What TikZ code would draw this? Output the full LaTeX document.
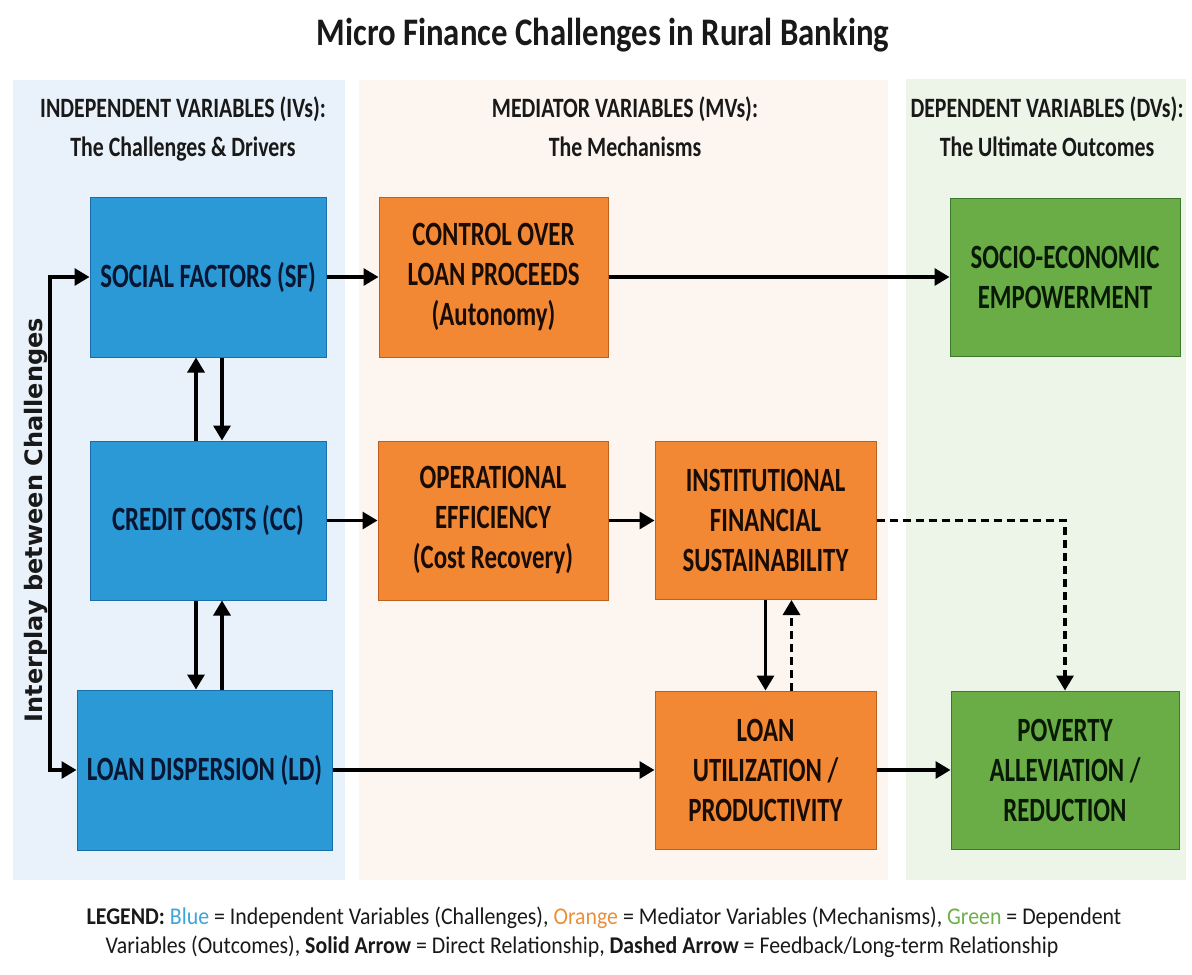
\documentclass[tikz,border=0pt]{standalone}
\usepackage{fontspec}
\setmainfont{Carlito}[FakeStretch=0.78]
\newfontfamily\boxfont{Carlito}[FakeStretch=0.73]
\newfontfamily\titlefont{Carlito}[FakeStretch=0.84]
\newfontfamily\legfont{Carlito}[FakeStretch=0.91]
\newfontfamily\sidefont{DejaVu Sans}
\usetikzlibrary{arrows.meta}

% panel backgrounds
\definecolor{ivbg}{RGB}{233,242,250}
\definecolor{mvbg}{RGB}{253,245,239}
\definecolor{dvbg}{RGB}{236,245,231}
% box fills, outlines and text
\definecolor{ivfill}{RGB}{43,153,214}
\definecolor{ivline}{RGB}{25,110,170}
\definecolor{ivtext}{RGB}{8,22,50}
\definecolor{mvfill}{RGB}{242,136,52}
\definecolor{mvline}{RGB}{190,95,30}
\definecolor{mvtext}{RGB}{25,12,4}
\definecolor{dvfill}{RGB}{106,172,70}
\definecolor{dvline}{RGB}{60,120,45}
\definecolor{dvtext}{RGB}{8,26,6}
% legend colour words
\definecolor{legblue}{RGB}{60,165,220}
\definecolor{legorange}{RGB}{232,145,58}
\definecolor{leggreen}{RGB}{110,176,74}

\tikzset{
  box/.style={draw, line width=1pt, inner sep=0pt, align=center,
    font=\boxfont\fontsize{34}{40}\selectfont\bfseries},
  ivbox/.style={box, fill=ivfill, draw=ivline, text=ivtext},
  mvbox/.style={box, fill=mvfill, draw=mvline, text=mvtext},
  dvbox/.style={box, fill=dvfill, draw=dvline, text=dvtext},
  head/.style={anchor=base, font=\fontsize{28}{34}\selectfont\bfseries, text=black!90},
  legend/.style={anchor=base, font=\legfont\fontsize{24}{28}\selectfont, text=black!90},
  tip/.tip={Triangle[length=15pt,width=17pt]},
  arr/.style={line width=3.2pt, -tip},
  dasharr/.style={arr, dash pattern=on 8pt off 5pt},
  dblarr/.style={line width=3.2pt, tip-tip},
}

\begin{document}
\begin{tikzpicture}[x=1pt, y=-1pt]
\useasboundingbox (0,0) rectangle (1192,975);
\fill[white] (0,0) rectangle (1192,975);

% column panels
\fill[ivbg] (13,80) rectangle (345,880);
\fill[mvbg] (359,80) rectangle (888,880);
\fill[dvbg] (906,79) rectangle (1186,880);

% title and column headings
\node[anchor=base, font=\titlefont\fontsize{39}{44}\selectfont\bfseries, text=black!90] (title) at (603,45) {Micro Finance Challenges in Rural Banking};
\node[head] (hiv1) at (183,117) {INDEPENDENT VARIABLES (IVs):};
\node[head] (hiv2) at (183,156) {The Challenges \& Drivers};
\node[head] (hmv1) at (625,117) {MEDIATOR VARIABLES (MVs):};
\node[head] (hmv2) at (625,156) {The Mechanisms};
\node[head] (hdv1) at (1047,117) {DEPENDENT VARIABLES (DVs):};
\node[head] (hdv2) at (1047,156) {The Ultimate Outcomes};

% independent variables
\node[ivbox, minimum width=236, minimum height=160] (SF) at (208,277) {SOCIAL FACTORS (SF)};
\node[ivbox, minimum width=236, minimum height=159] (CC) at (208,520.5) {CREDIT COSTS (CC)};
\node[ivbox, minimum width=255, minimum height=160] (LD) at (204.5,770) {LOAN DISPERSION (LD)};

% mediator variables
\node[mvbox, minimum width=229, minimum height=160] (CTRL) at (493.5,277) {CONTROL OVER\\LOAN PROCEEDS\\(Autonomy)};
\node[mvbox, minimum width=230, minimum height=159] (OPE) at (493,520.5) {OPERATIONAL\\EFFICIENCY\\(Cost Recovery)};
\node[mvbox, minimum width=221, minimum height=158] (INST) at (765.5,520.5) {INSTITUTIONAL\\FINANCIAL\\SUSTAINABILITY};
\node[mvbox, minimum width=221, minimum height=158] (LU) at (765.5,770) {LOAN\\UTILIZATION /\\PRODUCTIVITY};

% dependent variables
\node[dvbox, minimum width=230, minimum height=158] (SOCIO) at (1065,277) {SOCIO-ECONOMIC\\EMPOWERMENT};
\node[dvbox, minimum width=228, minimum height=158] (POV) at (1065,770) {POVERTY\\ALLEVIATION /\\REDUCTION};

% interplay between the challenges
\coordinate (ix) at (50,0);
\draw[dblarr] (SF.west) -- (SF.west -| ix) -- (LD.west -| ix) -- (LD.west);
\node[rotate=90, anchor=base, font=\sidefont\bfseries\fontsize{24}{28}\selectfont, text=black!90] (inter) at (42,520) {Interplay between Challenges};

\draw[arr] ([xshift=-12pt]CC.north) -- ([xshift=-12pt]SF.south);
\draw[arr] ([xshift=14pt]SF.south) -- ([xshift=14pt]CC.north);
\draw[arr] ([xshift=-12pt]CC.south) -- ([xshift=-12pt]CC.south |- LD.north);
\draw[arr] ([xshift=14pt]CC.south |- LD.north) -- ([xshift=14pt]CC.south);

% direct relationships
\draw[arr] (SF.east) -- (CTRL.west);
\draw[arr] (CTRL.east) -- (SOCIO.west);
\draw[arr] (CC.east) -- (OPE.west);
\draw[arr] (OPE.east) -- (INST.west);
\draw[arr] (LD.east) -- (LU.west);
\draw[arr] (LU.east) -- (POV.west);
\draw[arr] (INST.south) -- (LU.north);

% feedback / long-term relationships
\draw[dasharr] ([xshift=26pt]LU.north) -- ([xshift=26pt]INST.south);
\draw[dasharr] (INST.east) -| (POV.north);

% legend
\node[legend] (leg1) at (604,924) {\textbf{LEGEND:} \textcolor{legblue}{Blue} = Independent Variables (Challenges), \textcolor{legorange}{Orange} = Mediator Variables (Mechanisms), \textcolor{leggreen}{Green} = Dependent};
\node[legend] (leg2) at (582,953) {Variables (Outcomes), \textbf{Solid Arrow} = Direct Relationship, \textbf{Dashed Arrow} = Feedback/Long-term Relationship};
\end{tikzpicture}
\end{document}
